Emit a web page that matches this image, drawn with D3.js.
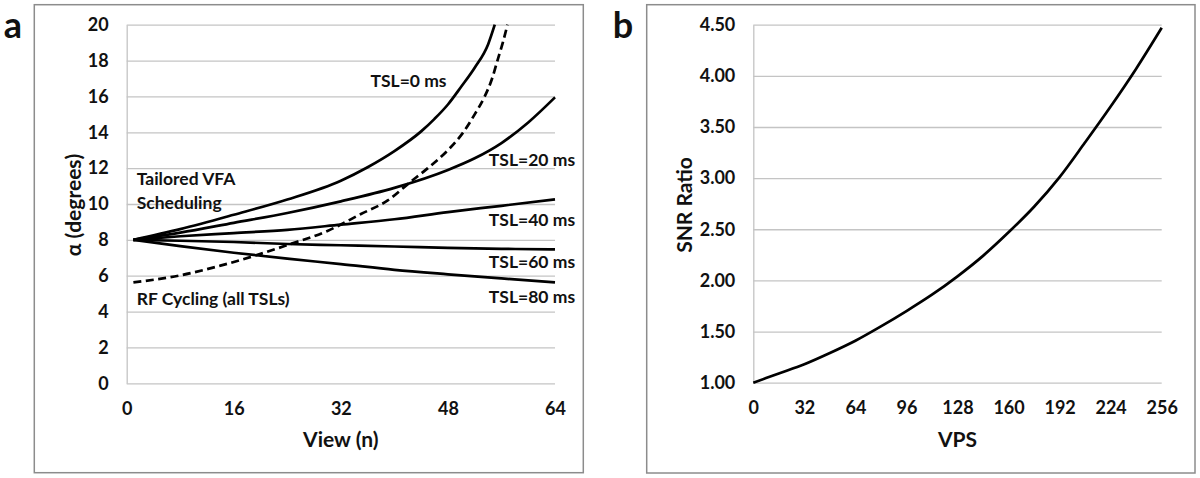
<!DOCTYPE html>
<html>
<head>
<meta charset="utf-8">
<script src="https://cdn.jsdelivr.net/npm/d3@7"></script>
<style>
  body { margin: 0; background: #fff; }
  svg { display: block; }
  text { font-family: Lato, "Open Sans", sans-serif; font-weight: 700; fill: #111; }
</style>
</head>
<body>
<svg id="chart" width="1200" height="478"></svg>
<script>
// ---- panel a: flip angle per view ----
var viewTicks = [0, 16, 32, 48, 64];
var alphaTicks = [0, 2, 4, 6, 8, 10, 12, 14, 16, 18, 20];

var tsl0 = [[1, 8.0], [8, 8.6], [16, 9.4], [24, 10.25], [32, 11.3], [36, 12.05], [40, 12.95],
            [44, 14.05], [46, 14.75], [48, 15.55], [50, 16.55], [52, 17.6], [54, 18.9], [55, 20.0]];
var tsl20 = [[1, 8.0], [8, 8.4], [16, 8.95], [24, 9.5], [32, 10.15], [40, 10.9], [48, 11.9],
             [52, 12.55], [56, 13.4], [60, 14.55], [64, 15.95]];
var tsl40 = [[1, 8.0], [8, 8.2], [16, 8.38], [24, 8.56], [32, 8.85], [40, 9.15], [48, 9.55],
             [56, 9.9], [64, 10.26]];
var tsl60 = [[1, 8.0], [8, 7.95], [16, 7.88], [24, 7.77], [32, 7.7], [40, 7.63], [48, 7.55],
             [56, 7.5], [64, 7.47]];
var tsl80 = [[1, 8.0], [8, 7.65], [16, 7.28], [24, 6.95], [32, 6.65], [40, 6.33], [48, 6.08],
             [56, 5.85], [64, 5.63]];
var rfCycling = [[1, 5.63], [8, 6.02], [14, 6.56], [19, 7.1], [24, 7.71], [30, 8.5], [35, 9.44],
                 [39, 10.2], [42.3, 11.2], [45, 12.0], [48, 13.0], [50.3, 14], [52, 15], [53.5, 16],
                 [54.6, 17], [55.4, 18], [56.2, 19], [56.9, 20]];

// ---- panel b: SNR ratio vs VPS ----
var vpsTicks = [0, 32, 64, 96, 128, 160, 192, 224, 256];
var snrTicks = [1.0, 1.5, 2.0, 2.5, 3.0, 3.5, 4.0, 4.5];
var snrRatio = [[0, 1.00], [16, 1.09], [32, 1.18], [48, 1.29], [64, 1.41], [80, 1.55], [96, 1.70],
                [112, 1.86], [128, 2.04], [144, 2.24], [160, 2.47], [176, 2.72], [192, 3.01],
                [208, 3.35], [224, 3.70], [240, 4.07], [256, 4.47]];

var svg = d3.select("#chart");

function drawPanel(opt) {
    // outer frame
    svg.append("rect")
        .attr("x", opt.frame[0]).attr("y", opt.frame[1])
        .attr("width", opt.frame[2] - opt.frame[0])
        .attr("height", opt.frame[3] - opt.frame[1])
        .attr("fill", "none")
        .attr("stroke", "#8c8c8c")
        .attr("stroke-width", 1.5);

    svg.append("text")
        .attr("x", opt.letterX).attr("y", 38)
        .attr("text-anchor", "middle")
        .attr("font-size", 36)
        .text(opt.letter);

    var width = opt.right - opt.left,
        height = opt.bottom - opt.top;
    var g = svg.append("g").attr("transform", "translate(" + opt.left + "," + opt.top + ")");

    var x = d3.scaleLinear().domain(opt.xDomain).range([0, width]);
    var y = d3.scaleLinear().domain(opt.yDomain).range([height, 0]);

    // y axis + gridlines
    var yAxis = g.append("g")
        .attr("class", "yaxis")
        .call(d3.axisLeft(y).tickValues(opt.yTicks).tickSize(-width).tickSizeOuter(0)
            .tickPadding(18).tickFormat(opt.yFormat));
    yAxis.selectAll(".tick line").attr("stroke", "#c4c4c4").attr("stroke-width", 1.3);
    yAxis.select(".domain").attr("stroke", "#c4c4c4").attr("stroke-width", 1.3);
    yAxis.selectAll("text").attr("font-size", 18).attr("fill", "#111");

    var xAxis = g.append("g")
        .attr("class", "xaxis")
        .attr("transform", "translate(0," + height + ")")
        .call(d3.axisBottom(x).tickValues(opt.xTicks).tickSize(0).tickPadding(19));
    xAxis.select(".domain").remove();
    xAxis.selectAll("text").attr("font-size", 18).attr("fill", "#111");

    // axis titles
    g.append("text")
        .attr("x", width / 2).attr("y", 447 - opt.top)
        .attr("text-anchor", "middle")
        .attr("font-size", 21)
        .text(opt.xTitle);
    g.append("text")
        .attr("transform", "translate(" + (opt.yTitleX - opt.left) + "," + (205 - opt.top) + ") rotate(-90)")
        .attr("text-anchor", "middle")
        .attr("font-size", 21)
        .text(opt.yTitle);

    var line = d3.line()
        .x(function (d) { return x(d[0]); })
        .y(function (d) { return y(d[1]); })
        .curve(d3.curveMonotoneX);

    opt.series.forEach(function (s) {
        g.append("path")
            .datum(s.values)
            .attr("fill", "none")
            .attr("stroke", "#000")
            .attr("stroke-width", 2.7)
            .attr("stroke-dasharray", s.dashed ? "8,4.5" : null)
            .attr("d", line);
    });

    (opt.notes || []).forEach(function (n) {
        g.append("text")
            .attr("x", x(n.x)).attr("y", y(n.y))
            .attr("text-anchor", n.anchor)
            .attr("font-size", 17.5)
            .text(n.text);
    });
}

drawPanel({
    frame: [34.3, 4.7, 583.3, 472.7],
    letter: "a", letterX: 13,
    left: 126.7, right: 555, top: 24.7, bottom: 383.3,
    xDomain: [0, 64], yDomain: [0, 20],
    xTicks: viewTicks, yTicks: alphaTicks, yFormat: d3.format("d"),
    xTitle: "View (n)", yTitle: "α (degrees)", yTitleX: 81,
    series: [
        { values: tsl0 }, { values: tsl20 }, { values: tsl40 },
        { values: tsl60 }, { values: tsl80 }, { values: rfCycling, dashed: true }
    ],
    notes: [
        { text: "TSL=0 ms", x: 47.8, y: 16.52, anchor: "end" },
        { text: "TSL=20 ms", x: 67, y: 12.14, anchor: "end" },
        { text: "TSL=40 ms", x: 67, y: 8.77, anchor: "end" },
        { text: "TSL=60 ms", x: 67, y: 6.41, anchor: "end" },
        { text: "TSL=80 ms", x: 67, y: 4.47, anchor: "end" },
        { text: "Tailored VFA", x: 1.5, y: 11.06, anchor: "start" },
        { text: "Scheduling", x: 1.5, y: 9.7, anchor: "start" },
        { text: "RF Cycling (all TSLs)", x: 1.5, y: 4.36, anchor: "start" }
    ]
});

drawPanel({
    frame: [646.7, 4.7, 1195, 473],
    letter: "b", letterX: 623,
    left: 753.3, right: 1161.7, top: 24.7, bottom: 382.7,
    xDomain: [0, 256], yDomain: [1, 4.5],
    xTicks: vpsTicks, yTicks: snrTicks, yFormat: d3.format(".2f"),
    xTitle: "VPS", yTitle: "SNR Ratio", yTitleX: 692,
    series: [{ values: snrRatio }]
});
</script>
</body>
</html>
